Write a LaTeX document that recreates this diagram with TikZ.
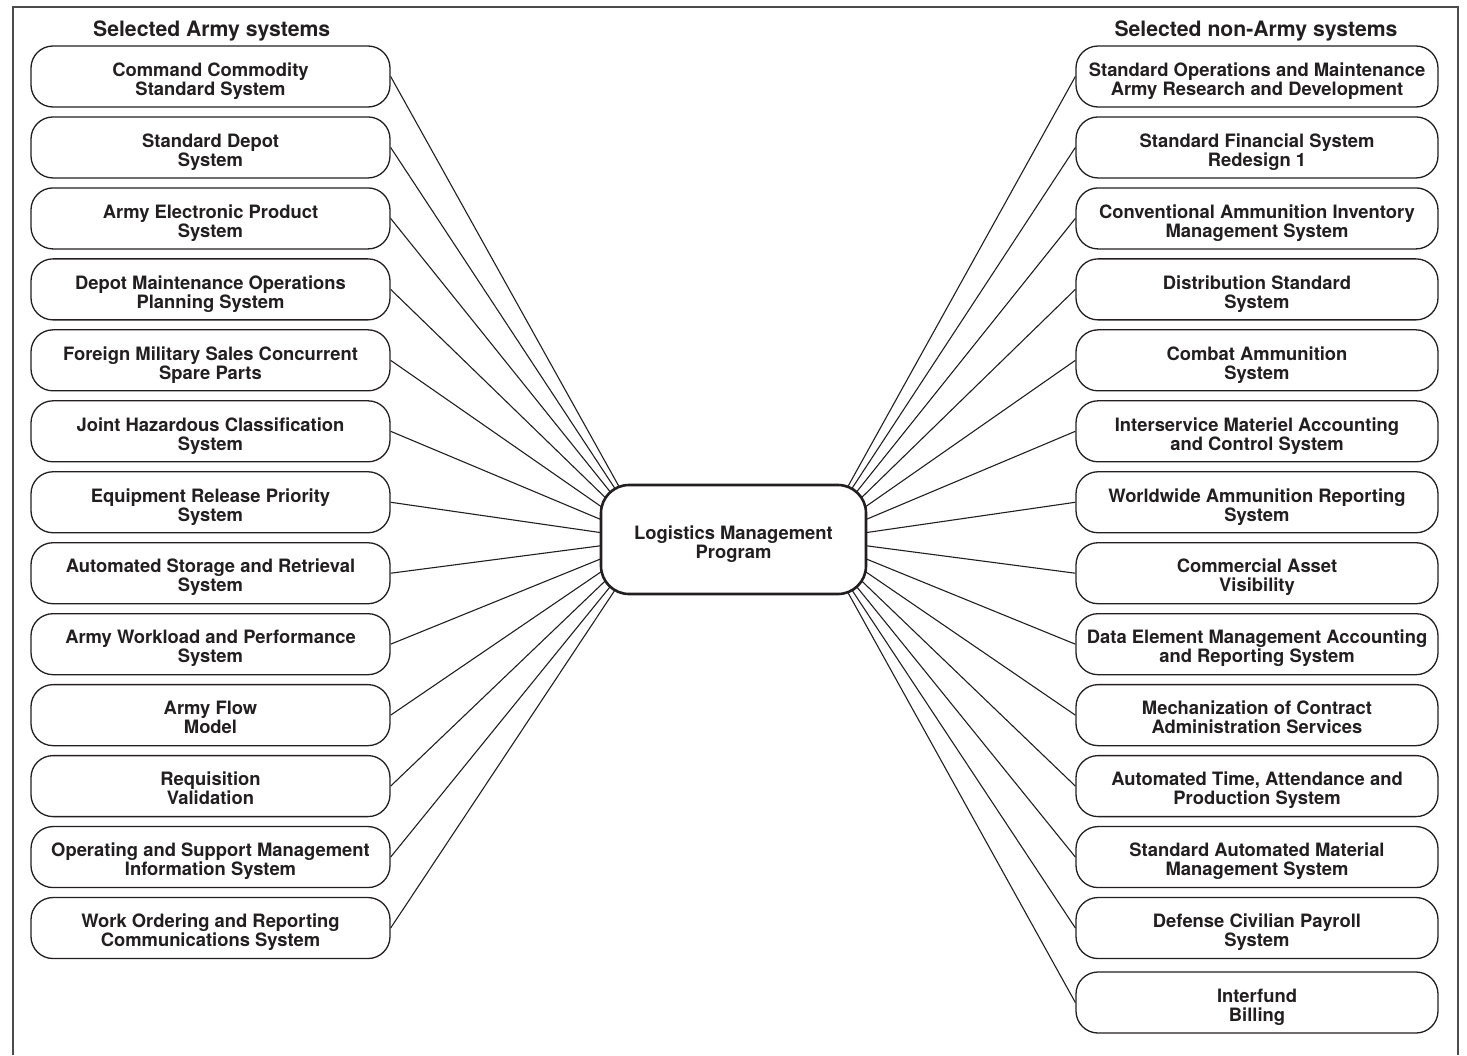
\documentclass[tikz,border=0pt]{standalone}
\usepackage{fontspec}
\setmainfont{TeX Gyre Heros}
\usetikzlibrary{backgrounds,calc}
\definecolor{ink}{RGB}{35,31,32}
\begin{document}
\begin{tikzpicture}[x=1pt,y=-1pt,
  sysbox/.style={draw=ink, line width=1.3pt, rounded corners=22pt, minimum height=61pt,
    align=center, text=ink, font=\fontsize{18.4}{19}\selectfont\bfseries, inner sep=0pt,
    text height=37.5pt, text depth=0pt, fill=white},
  lbox/.style={sysbox, minimum width=359pt},
  rbox/.style={sysbox, minimum width=362pt},
  hub/.style={draw=ink, line width=2.6pt, rounded corners=28pt, minimum width=265pt,
    minimum height=109pt, align=center, text=ink, font=\fontsize{18.4}{19}\selectfont\bfseries,
    inner sep=0pt, text height=37.5pt, text depth=0pt, fill=white},
  head/.style={text=ink, font=\fontsize{21.2}{24}\selectfont\bfseries, anchor=base, inner sep=0pt},
  link/.style={draw=ink, line width=1.1pt},
  frame/.style={draw=black!70, line width=2pt}]
\useasboundingbox (0,0) rectangle (1467,1055);
\draw[frame] (13,1055) -- (13,7) -- (1458,7) -- (1458,1055);

\node[head] (hl) at (211.7,36.7) {Selected Army systems};
\node[head] (hr) at (1256,36.7) {Selected non-Army systems};

\node[hub] (lmp) at (733.5,539.5) {Logistics Management\\Program};

\foreach \t [count=\i] in {
  {Command Commodity\\Standard System},
  {Standard Depot\\System},
  {Army Electronic Product\\System},
  {Depot Maintenance Operations\\Planning System},
  {Foreign Military Sales Concurrent\\Spare Parts},
  {Joint Hazardous Classification\\System},
  {Equipment Release Priority\\System},
  {Automated Storage and Retrieval\\System},
  {Army Workload and Performance\\System},
  {Army Flow\\Model},
  {Requisition\\Validation},
  {Operating and Support Management\\Information System},
  {Work Ordering and Reporting\\Communications System}}
  \node[lbox] (L\i) at (210.5,{76.5+70.96*(\i-1)}) {\t};

\foreach \t [count=\i] in {
  {Standard Operations and Maintenance\\Army Research and Development},
  {Standard Financial System\\Redesign 1},
  {Conventional Ammunition Inventory\\Management System},
  {Distribution Standard\\System},
  {Combat Ammunition\\System},
  {Interservice Materiel Accounting\\and Control System},
  {Worldwide Ammunition Reporting\\System},
  {Commercial Asset\\Visibility},
  {Data Element Management Accounting\\and Reporting System},
  {Mechanization of Contract\\Administration Services},
  {Automated Time, Attendance and\\Production System},
  {Standard Automated Material\\Management System},
  {Defense Civilian Payroll\\System}}
  \node[rbox] (R\i) at (1257,{76.5+70.96*(\i-1)}) {\t};
\node[rbox] (R14) at (1257,1002.5) {Interfund\\Billing};

\begin{scope}[on background layer]
  \coordinate (lt) at ($(lmp.center)+(-85,0)$);
  \coordinate (rt) at ($(lmp.center)+(85,0)$);
  \foreach \i in {1,...,13} \draw[link] (L\i.east) -- (lt);
  \foreach \i in {1,...,14} \draw[link] (R\i.west) -- (rt);
\end{scope}
\end{tikzpicture}
\end{document}
